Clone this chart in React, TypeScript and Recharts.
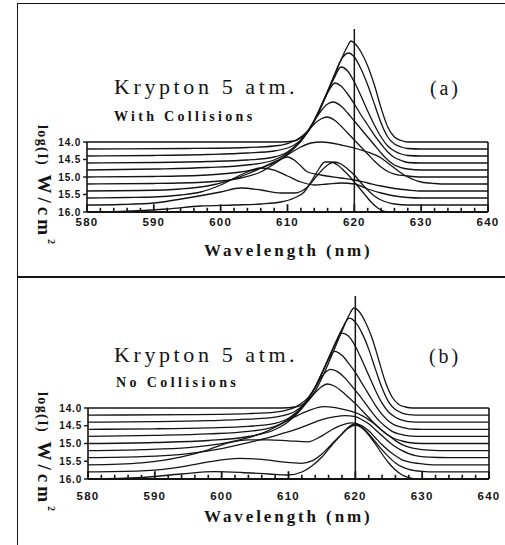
import React from 'react';
import { LineChart, Line, XAxis, YAxis, ReferenceLine } from 'recharts';

// ---------- axes ----------
const wavelengthLabels = [580, 590, 600, 610, 620, 630, 640];
const wavelengthMinorTicks = [582, 584, 586, 588, 592, 594, 596, 598, 602, 604, 606, 608, 612, 614, 616, 618, 622, 624, 626, 628, 632, 634, 636, 638];
const logITicks = [14.0, 14.5, 15.0, 15.5, 16.0];
// log(I) of each trace (back row to front row)
const traceLevels = [14.0, 14.2, 14.4, 14.6, 14.8, 15.0, 15.2, 15.4, 15.6, 15.8, 16.0];
const lineCentre = 620;

// ---------- (a) With collisions : [wavelength nm, spectral height (arb.)] ----------
const a0 = [[580,0],[609,0],[611,1],[612,4],[613,10],[614,21],[615,35],[616,50],[617,66],[618,82],[619,96],[619.5,101],[620,99],[621,90],[622,76],[623,57],[624,34],[625,15],[626,5],[627,1.5],[628,0],[640,0]];
const a1 = [[580,0],[595,0.5],[604,1.5],[608,3],[610,5.5],[611,8],[612,12],[613,18],[614,29],[615,43],[616,58],[617,74],[618,89],[619.1,96],[620,92],[621,80],[622,64],[623,45],[624,26],[625,12],[626,5],[627,2],[628,0.5],[630,0],[640,0]];
const a2 = [[580,0],[590,0.5],[598,1.5],[604,3],[608,5],[610,8],[611,11],[612,16],[613,24],[614,35],[615,49],[616,64],[617,78],[618,89],[619,85],[620,74],[621,60],[622,45],[623,31],[624,19],[625,10],[626,5],[627,2],[628,0.5],[630,0],[640,0]];
const a3 = [[580,0],[590,0.5],[598,1.5],[604,3],[608,6],[610,11],[611,16],[612,22],[613,31],[614,42],[615,56],[616,70],[617.1,80],[618,77],[619,69],[620,59],[621,48],[622,38],[623,28],[624,19],[625,11],[626,5.5],[627,2.5],[628,0.5],[630,0],[640,0]];
const a4 = [[580,0],[590,1],[598,2.5],[604,5],[608,10],[610,17],[611,22],[612,29],[613,38],[614,49],[615,59],[616,66],[616.8,68],[618,64],[619,57],[620,49],[621,41],[622,33],[623,25],[624,17],[625,10],[626,5],[627,2.5],[628,1],[630,0],[640,0]];
const a5 = [[580,0],[590,0.5],[598,2],[603,5],[606,9],[608,14],[610,23],[611,29],[612,36],[613,45],[614,53],[615,58],[615.9,60],[617,57],[618,51],[619,44],[620,37],[621,30],[622,23],[623,16],[624,10],[625,5.5],[626,3],[628,1],[630,0],[640,0]];
const a6 = [[580,0],[590,0.5],[598,2],[603,6],[606,12],[608,20],[610,29],[612,37],[613.5,41],[615,42],[616.5,41],[618,39],[620,36],[622,32],[624,26],[625,21],[626,16],[627,11],[628,7],[629,4],[630,2],[632,0.5],[634,0],[640,0]];
const a7 = [[580,0],[588,0.5],[594,2],[598,5],[601,10],[604,17],[607,26],[609,32],[610,34],[611,31],[612,25],[613,19],[615,16],[618,13],[620,11],[622,8],[624,5],[626,2.5],[628,1],[630,0],[640,0]];
const a8 = [[580,0],[586,0.5],[590,1],[594,3],[597,6],[600,13],[603,23],[606,30],[608,28],[610,22],[612,16],[614,13],[616,14],[618,15],[620,14],[622,9],[624,5],[626,2],[628,0.5],[630,0],[640,0]];
const a9 = [[580,0],[585,0.5],[590,2],[595,7],[600,13],[603,17],[606,15],[609,12],[611,12],[613,18],[614.5,30],[616,40],[617,43],[618,41],[619,36],[620,30],[621,22],[622,15],[623,9],[624,5],[625,2.5],[626,1],[628,0],[640,0]];
const a10 = [[580,0],[585,0.5],[592,3],[597,6],[602,7],[606,8],[609,10],[611,14],[612.5,20],[613.5,30],[614.5,41],[615.6,50],[616.5,50],[617.5,47],[618.5,41],[619.5,34],[620.5,26],[621.5,18],[622.5,10],[623.5,4],[624.5,0.5],[625,0],[640,0]];

// ---------- (b) No collisions ----------
const b0 = [[580,0],[609,0],[611,1],[612,3],[613,8],[614,17],[615,30],[616,45],[617,61],[618,77],[619,92],[619.8,100],[620.5,97],[621.5,86],[622.5,70],[623.5,48],[624.5,26],[625.5,11],[626.5,3.5],[627.5,1],[628.5,0],[640,0]];
const b1 = [[580,0],[595,0.5],[604,1.5],[608,3],[610,5.5],[611,8],[612,12],[613,18],[614,28],[615,42],[616,57],[617,72],[618,86],[619.1,97],[620,93],[621,82],[622,66],[623,46],[624,27],[625,13],[626,5.5],[627,2],[628,0.5],[630,0],[640,0]];
const b2 = [[580,0],[590,0.5],[598,1.5],[604,3],[608,5],[610,8],[611,11],[612,16],[613,24],[614,35],[615,49],[616,64],[617,78],[618,89],[619,86],[620,76],[621,62],[622,47],[623,32],[624,19],[625,10],[626,5],[627,2],[628,0.5],[630,0],[640,0]];
const b3 = [[580,0],[590,0.5],[598,1.5],[604,3],[608,6],[610,11],[611,16],[612,22],[613,31],[614,42],[615,56],[616,70],[616.9,78],[618,74],[619,66],[620,57],[621,46],[622,35],[623,24],[624,15],[625,8],[626,4],[627,2],[628,0.5],[630,0],[640,0]];
const b4 = [[580,0],[590,1],[598,2.5],[604,5],[608,10],[610,17],[611,22],[612,29],[613,38],[614,49],[615,60],[616.3,67],[617.5,64],[618.5,58],[619.5,50],[620.5,42],[621.5,33],[622.5,24],[623.5,16],[624.5,10],[625.5,5],[626.5,2.5],[628,0.5],[630,0],[640,0]];
const b5 = [[580,0],[590,1],[598,3],[604,7],[608,14],[610,22],[611,28],[612,35],[613,43],[614,51],[615,57],[615.8,59.5],[617,57],[618,52],[619,46],[620,40],[621,33],[622,26],[623,19],[624,13],[625,8],[626,4.5],[627,2.5],[628,1],[630,0],[640,0]];
const b6 = [[580,0],[588,1],[595,3],[600,7],[604,13],[607,20],[609,27],[611,34],[613,40],[615.3,44],[617,43],[619,40],[620,38],[621,35],[622,31],[623,26],[624,20],[625,15],[626,10],[627,6],[628,3.5],[629,2],[631,0.5],[634,0],[640,0]];
const b7 = [[580,0],[588,1],[595,4],[600,9],[604,15],[607,20],[609,24],[611,28],[613,33],[615,38],[617,41],[618.4,42],[620,41],[621,38],[622,34],[623,28],[624,22],[625,16],[626,11],[627,7],[628,4],[629,2],[631,0.5],[634,0],[640,0]];
const b8 = [[580,0],[588,2],[594,8],[598,15],[601,22],[604,25],[607,25],[610,24],[612.9,23],[615,29],[617,37],[619.5,42],[621,39],[622,34],[623,27],[624,20],[625,14],[626,9],[627,5],[628,3],[630,1],[632,0],[640,0]];
const b9 = [[580,0],[588,1],[594,5],[598,10],[602.6,13.6],[606,12.5],[609,10],[611.9,8.6],[613.5,11],[615,18],[616.5,28],[618,38],[619,45],[620,48],[621,45],[622,38],[623,30],[624,22],[625,15],[626,9],[627,5],[628,2.5],[630,0.5],[632,0],[640,0]];
const b10 = [[580,0],[588,1.5],[594,5],[598.9,7.3],[603,6.5],[607,5],[609.9,4],[612,7],[613.5,13],[615,22],[616.5,34],[618,45],[619,51],[620,54],[621,51],[622,44],[623,35],[624,25],[625,16],[626,9],[627,4],[628,1.5],[629,0],[640,0]];

const collisionTraces = [a0, a1, a2, a3, a4, a5, a6, a7, a8, a9, a10];
const noCollisionTraces = [b0, b1, b2, b3, b4, b5, b6, b7, b8, b9, b10];

// waterfall gain: log(I) units per unit of spectral height
const GAIN_A = 1 / 35;
const GAIN_B = 1 / 35.5;
// inward x tick lengths, in log(I) units
const MAJOR_TICK = 0.22;
const MINOR_TICK = 0.12;

function buildTraces(traces: number[][][], gain: number) {
  return traces.map((pts, k) =>
    pts.map(([x, h]) => ({ x, y: traceLevels[k] - h * gain }))
  );
}

const INK = '#141414';
const sans = "'Liberation Sans', Arial, sans-serif";
const serif = "'Liberation Serif', 'Times New Roman', serif";

const makeXTick = (labelDy: number) => (props: any) => {
  const { x, y, payload } = props;
  return (
    <text x={x} y={y + labelDy} textAnchor="middle" fontFamily={sans} fontWeight="bold" fontSize={11.5} letterSpacing={1.2} fill={INK}>
      {payload.value}
    </text>
  );
};

function Panel(props: { traces: number[][][]; gain: number; top: number; margin: any; yTop: number; labelDy: number }) {
  const series = buildTraces(props.traces, props.gain);
  const TickComp = makeXTick(props.labelDy);
  return (
    <div style={{ position: 'absolute', left: 0, top: props.top }}>
      <LineChart width={505} height={245} margin={props.margin}>
        <XAxis
          type="number"
          dataKey="x"
          domain={[580, 640]}
          ticks={wavelengthLabels}
          interval={0}
          tickLine={false}
          tickSize={0}
          tickMargin={0}
          height={20}
          axisLine={{ stroke: INK, strokeWidth: 1.8 }}
          tick={(p: any) => <TickComp {...p} />}
        />
        <YAxis
          type="number"
          domain={[props.yTop, 16]}
          reversed
          ticks={logITicks}
          interval={0}
          width={40}
          axisLine={false}
          tickLine={{ stroke: INK, strokeWidth: 1.4 }}
          tickSize={4}
          tickMargin={2}
          tickFormatter={(v: number) => v.toFixed(1)}
          tick={{ fill: INK, fontSize: 10, fontWeight: 'bold', fontFamily: sans, letterSpacing: 0.8 }}
        />
        <ReferenceLine segment={[{ x: 580, y: 14 }, { x: 580, y: 16 }]} stroke={INK} strokeWidth={1.6} />
        <ReferenceLine segment={[{ x: 640, y: 14 }, { x: 640, y: 16 }]} stroke={INK} strokeWidth={1.6} />
        {wavelengthLabels.map((v) => (
          <ReferenceLine key={`M${v}`} segment={[{ x: v, y: 16 }, { x: v, y: 16 - MAJOR_TICK }]} stroke={INK} strokeWidth={1.8} />
        ))}
        {wavelengthMinorTicks.map((v) => (
          <ReferenceLine key={`m${v}`} segment={[{ x: v, y: 16 }, { x: v, y: 16 - MINOR_TICK }]} stroke={INK} strokeWidth={1.6} />
        ))}
        <ReferenceLine x={lineCentre} stroke={INK} strokeWidth={1.5} />
        {series.map((d, k) => (
          <Line
            key={k}
            data={d}
            dataKey="y"
            type="monotone"
            dot={false}
            stroke={INK}
            strokeWidth={1.3}
            isAnimationActive={false}
          />
        ))}
      </LineChart>
    </div>
  );
}

const txt = (left: number, top: number, size: number, spacing: number, bold: boolean, content: string) => (
  <div
    style={{
      position: 'absolute',
      left,
      top,
      fontFamily: serif,
      fontSize: size,
      lineHeight: `${size}px`,
      letterSpacing: spacing,
      fontWeight: bold ? 'bold' : 'normal',
      whiteSpace: 'pre',
      color: INK,
    }}
  >
    {content}
  </div>
);

const yLabel = (left: number, top: number) => (
  <div
    style={{
      position: 'absolute',
      left,
      top,
      transformOrigin: '0 0',
      transform: 'rotate(90deg)',
      fontFamily: serif,
      fontWeight: 'bold',
      fontSize: 19,
      lineHeight: '19px',
      whiteSpace: 'pre',
      color: INK,
    }}
  >
    <span style={{ fontSize: 14, letterSpacing: 1.4 }}>log(I)</span>
    <span style={{ letterSpacing: 4 }}> W/cm</span>
    <span style={{ fontSize: 10, position: 'relative', top: -10 }}>2</span>
  </div>
);

export default function App() {
  return (
    <div style={{ position: 'absolute', left: 0, top: 0, width: 505, height: 545, background: '#fff', overflow: 'hidden' }}>
      {/* frame */}
      <div style={{ position: 'absolute', left: 18, top: 3, width: 487, height: 0, borderTop: `1.5px solid ${INK}` }} />
      <div style={{ position: 'absolute', left: 17, top: 3, width: 0, height: 542, borderLeft: `1.5px solid ${INK}` }} />
      <div style={{ position: 'absolute', left: 18, top: 276, width: 487, height: 0, borderTop: `2px solid ${INK}` }} />

      <Panel traces={collisionTraces} gain={GAIN_A} top={0} yTop={10.771} labelDy={14} margin={{ top: 29, right: 17, bottom: 13, left: 47 }} />
      <Panel traces={noCollisionTraces} gain={GAIN_B} top={270} yTop={10.845} labelDy={21} margin={{ top: 26, right: 16, bottom: 16, left: 48 }} />

      {/* panel (a) text */}
      {txt(114, 76, 22, 3.6, false, 'Krypton 5 atm.')}
      {txt(430, 78, 20, 2.9, false, '(a)')}
      {txt(114, 110, 14, 3.3, true, 'With Collisions')}
      {txt(204, 242, 17, 2.9, true, 'Wavelength (nm)')}
      {yLabel(54, 125)}

      {/* panel (b) text */}
      {txt(114, 344, 22, 3.6, false, 'Krypton 5 atm.')}
      {txt(429, 346, 20, 2.9, false, '(b)')}
      {txt(116, 376, 14, 3.4, true, 'No Collisions')}
      {txt(204, 508, 17, 2.9, true, 'Wavelength (nm)')}
      {yLabel(54, 392)}
    </div>
  );
}
